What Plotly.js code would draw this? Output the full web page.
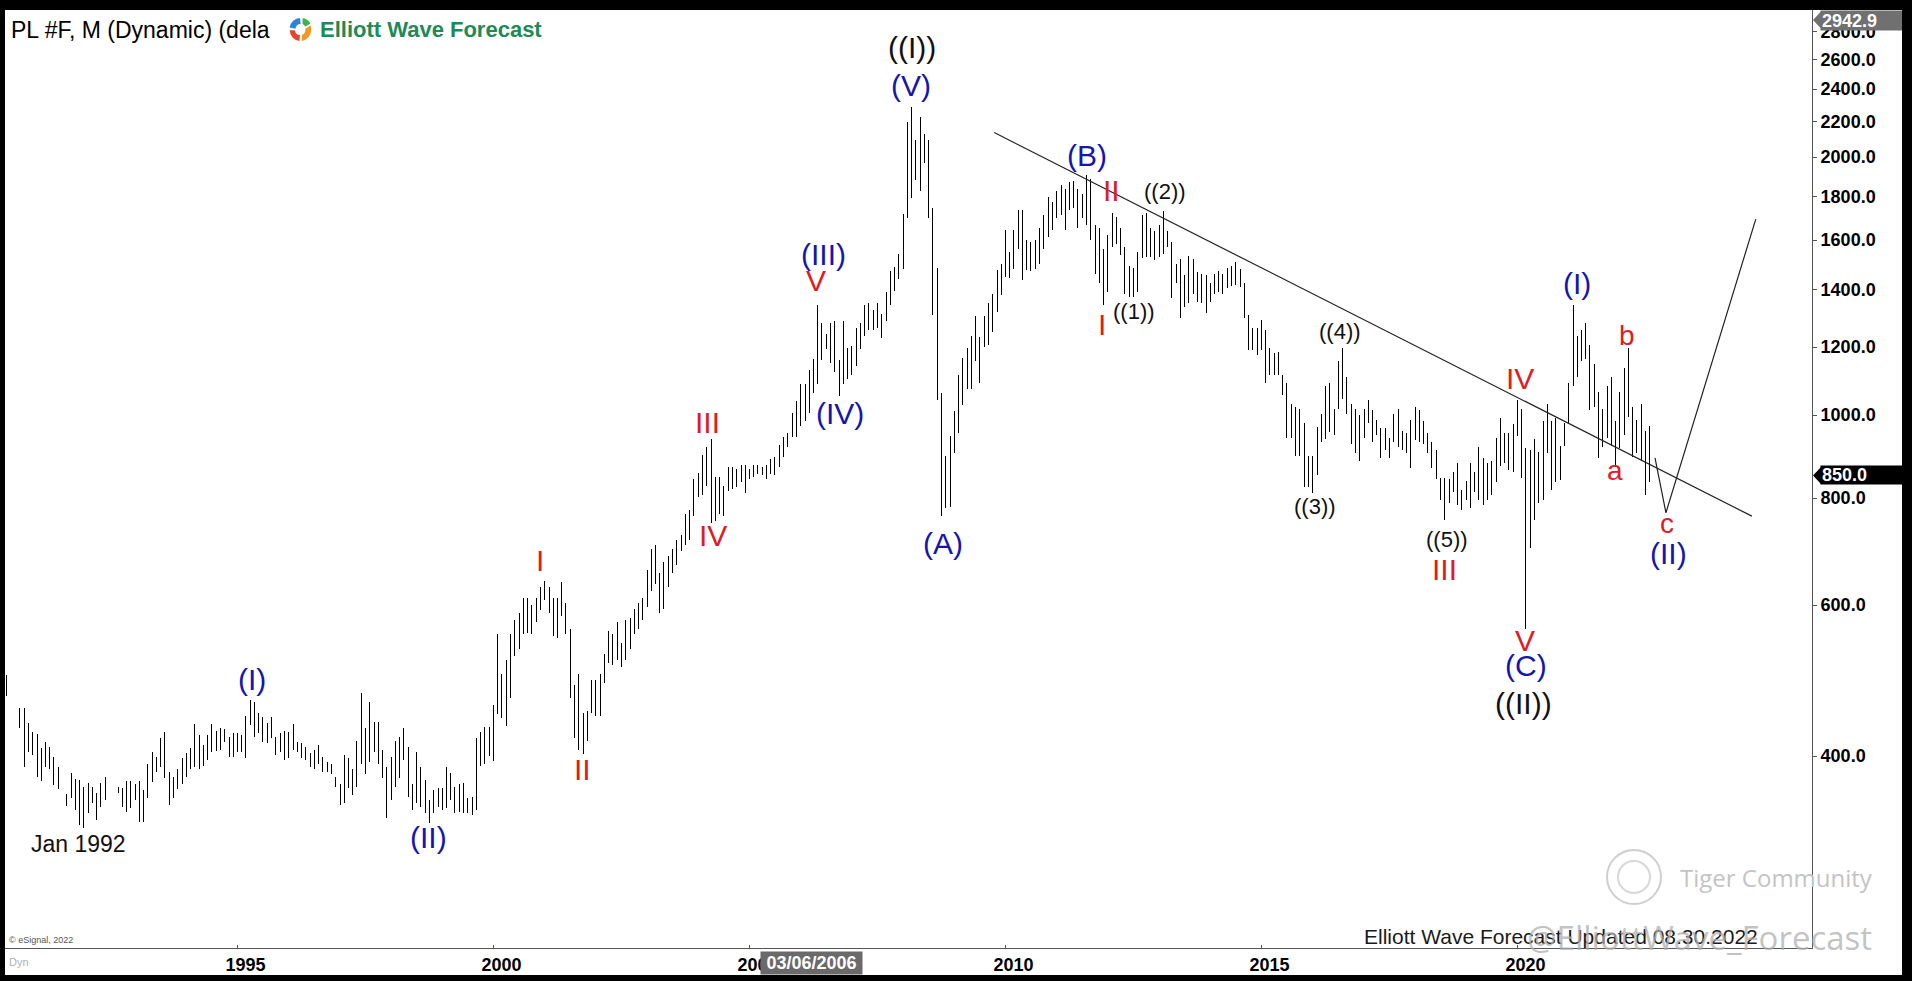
<!DOCTYPE html>
<html><head><meta charset="utf-8">
<script src="https://cdn.plot.ly/plotly-3.0.1.min.js"></script>
<style>
html,body{margin:0;padding:0;background:#000;width:1912px;height:981px;overflow:hidden;}
#chart{position:absolute;left:5px;top:10px;width:1897px;height:965px;background:#fff;}
#chart .scatterlayer .trace:first-of-type path.js-line{shape-rendering:crispEdges;}
</style></head><body><div id="chart"></div>
<script>
// ---------------- DATA (monthly high / low, PL #F, starting Jul 1990) ----------------
const startYear = 1990, startMonth = 7;
// Jul 1990 .. Dec 1999
const high1990s = [497,null,null,455,455,437,427,424,409,415,410,399,388,null,361,382,376,375,368,372,368,362,372,378,null,null,368,367,374,374,371,374,365,392,404,399,420,427,383,378,386,398,403,409,436,423,412,423,436,428,431,430,421,425,425,423,446,465,462,449,444,437,444,421,425,428,427,436,415,414,410,403,406,412,399,394,392,378,371,401,398,386,417,474,431,462,438,438,406,388,399,417,421,431,410,371,404,388,375,355,365,367,367,388,382,368,371,372,357,358,420,427,433,433];
const low1990s  = [470,null,null,431,388,404,401,378,374,388,386,370,366,null,350,357,346,332,330,343,353,337,349,355,null,null,362,349,344,348,355,335,335,357,373,383,388,377,351,357,366,371,378,386,388,386,389,396,404,405,406,415,399,399,404,404,398,435,421,425,415,414,420,401,404,396,398,406,404,398,396,388,386,391,383,383,381,368,351,353,367,360,368,391,381,394,404,392,377,339,355,368,377,396,358,346,353,349,343,334,343,349,346,348,355,343,344,343,343,341,346,389,392,400];
// Jan 2000 .. Dec 2009
const high2000s = [459,555,499,518,555,576,587,611,611,600,611,630,641,630,611,611,639,604,562,484,499,449,451,490,490,499,526,559,555,573,542,576,579,593,604,611,660,697,706,654,673,685,697,714,724,766,775,842,856,897,917,937,846,846,827,870,870,866,875,875,866,875,875,870,875,889,893,922,942,953,1006,1039,1087,1087,1129,1162,1344,1281,1243,1281,1288,1158,1288,1198,1205,1265,1281,1344,1350,1325,1350,1311,1390,1471,1489,1541,1718,2200,2290,2091,2226,2125,2096,1746,1483,1062,896,945,1012,1114,1167,1198,1237,1304,1234,1304,1350,1386,1477,1500];
const low2000s  = [395,448,443,434,467,523,533,555,557,555,573,592,608,588,552,549,583,555,467,420,407,402,416,449,445,445,487,513,511,518,508,518,533,555,562,576,597,623,635,587,593,630,654,669,694,706,714,762,802,806,827,749,753,766,762,815,820,824,835,810,842,846,853,851,842,853,851,870,893,917,942,942,970,984,1006,1062,1087,1158,1194,1150,1124,1051,1087,1101,1113,1141,1194,1237,1258,1258,1265,1231,1288,1344,1397,1440,1482,1700,1790,1880,1825,1968,1700,1309,1040,763,778,780,902,952,1026,1071,1071,1155,1090,1201,1208,1250,1318,1379];
// Jan 2010 .. Aug 2022
const high2010s = [1643,1549,1643,1736,1736,1600,1591,1600,1655,1712,1798,1773,1826,1855,1835,1869,1877,1835,1811,1906,1883,1667,1651,1563,1624,1721,1702,1655,1571,1494,1485,1549,1712,1721,1651,1639,1667,1732,1639,1591,1500,1520,1455,1532,1520,1467,1459,1455,1427,1459,1474,1459,1485,1494,1508,1482,1426,1309,1265,1265,1290,1258,1198,1180,1185,1114,1091,1031,1022,1017,978,896,896,968,1002,1080,1091,1017,1155,1198,1109,1029,1017,1000,1017,1041,1014,986,965,965,940,1002,1017,958,953,986,1022,1014,983,953,929,910,845,845,841,857,879,818,837,879,857,917,890,879,884,940,993,953,953,975,1041,1017,914,910,938,905,983,1029,983,991,920,978,1091,1344,1237,1257,1281,1208,1146,1065,1017,1080,1109,983,1065,1136,1198,1022,986,1031,958,970];
const low2010s  = [1449,1444,1482,1563,1437,1478,1471,1482,1500,1563,1612,1643,1697,1712,1643,1736,1746,1651,1697,1667,1600,1462,1426,1344,1390,1571,1584,1536,1386,1373,1373,1390,1524,1528,1528,1516,1528,1540,1571,1369,1426,1297,1338,1350,1386,1354,1350,1314,1354,1386,1390,1386,1405,1413,1420,1409,1297,1191,1191,1176,1191,1091,1113,1113,1113,1056,940,940,896,896,824,824,811,852,929,938,956,948,1017,1044,1002,926,902,884,940,978,929,948,890,910,890,929,917,910,902,868,934,929,926,902,868,841,796,755,790,814,785,774,796,778,814,796,785,796,806,836,872,879,863,859,945,845,562,699,755,790,796,902,818,836,839,920,978,1080,1109,1155,1162,1014,1022,890,917,940,920,870,914,948,996,893,902,884,806,836];

// Analyst drawings (dates / prices)
const trendDates  = ['2009-10-12', '2024-07-30'];
const trendPrices = [2136, 762];
const pathDates   = ['2022-09-08', '2022-11-25', '2024-08-27'];
const pathPrices  = [891, 769, 1693];

// Axis ticks
const yearTickDates = ['1995-01-01','2000-01-01','2005-01-01','2010-01-01','2015-01-01','2020-01-01'];
const yearTickText  = ['1995','2000','2005','2010','2015','2020'];
const priceTicks    = [400,600,800,1000,1200,1400,1600,1800,2000,2200,2400,2600,2800];
const lastPrice = 850.0, topPrice = 2942.9;
const cursorDate = '03/06/2006';

// ---------------- BUILD ----------------
const highs = high1990s.concat(high2000s, high2010s);
const lows  = low1990s.concat(low2000s, low2010s);
const bx = [], by = [];
for (let i = 0; i < highs.length; i++) {
  if (highs[i] == null) continue;
  const m = startMonth - 1 + i;
  const d = (startYear + Math.floor(m / 12)) + '-' + String(m % 12 + 1).padStart(2, '0') + '-01';
  bx.push(d, d, null); by.push(lows[i], highs[i], null);
}

const BLUE = '#1515b0', RED = '#e01b24', BLACK = '#111111';
const LF = 'Liberation Sans, Arial, sans-serif';

const waveLabels = [
 ['(I)', '1995-04-13', 489, BLUE, 30],
 ['(II)', '1998-09-27', 320, BLUE, 30],
 ['Jan 1992', '1991-11-25', 314, BLACK, 23],
 ['I', '2000-11-27', 672, RED, 30],
 ['II', '2001-09-30', 384, RED, 30],
 ['III', '2004-03-03', 976, RED, 30],
 ['IV', '2004-04-15', 719, RED, 30],
 ['V', '2006-04-20', 1426, RED, 30],
 ['(III)', '2006-06-09', 1533, BLUE, 30],
 ['(IV)', '2006-10-08', 1000, BLUE, 30],
 ['(V)', '2008-02-25', 2408, BLUE, 30],
 ['((I))', '2008-03-04', 2667, BLACK, 30],
 ['(A)', '2008-10-13', 705, BLUE, 30],
 ['(B)', '2011-08-04', 2000, BLUE, 30],
 ['I', '2011-11-19', 1270, RED, 30],
 ['II', '2012-01-30', 1816, RED, 30],
 ['((1))', '2012-07-04', 1312, BLACK, 22],
 ['((2))', '2013-02-12', 1811, BLACK, 22],
 ['((3))', '2016-01-17', 777, BLACK, 22],
 ['((4))', '2016-07-13', 1246, BLACK, 22],
 ['((5))', '2018-08-15', 711, BLACK, 22],
 ['III', '2018-08-01', 656, RED, 30],
 ['IV', '2020-01-18', 1096, RED, 30],
 ['V', '2020-02-23', 542, RED, 30],
 ['(C)', '2020-03-01', 507, BLUE, 30],
 ['((II))', '2020-02-16', 458, BLACK, 30],
 ['(I)', '2021-03-01', 1418, BLUE, 30],
 ['a', '2021-11-26', 856, RED, 28],
 ['b', '2022-02-20', 1233, RED, 28],
 ['c', '2022-12-02', 744, RED, 28],
 ['(II)', '2022-12-16', 685, BLUE, 30]
];

const yr = [Math.log10(238.8), Math.log10(2969)];
const W = 1897, H = 965, ML = 0, MR = 90, MT = 0, MB = 27;
const PW = W - ML - MR, PH = H - MT - MB;
const px2paperX = p => (p - 5) / PW;        // page pixel -> paper x
const px2paperY = p => (948 - p) / PH;      // page pixel -> paper y
const yPaperOf = v => (Math.log10(v) - yr[0]) / (yr[1] - yr[0]);

const annotations = waveLabels.map(l => ({
  text: l[0], x: l[1], y: Math.log10(l[2]), xref: 'x', yref: 'y', yshift: 2,
  showarrow: false, xanchor: 'center', yanchor: 'middle',
  font: {family: LF, size: l[4], color: l[3]}
}));

annotations.push(
  {text: 'PL #F, M (Dynamic) (dela', xref: 'paper', yref: 'paper', x: px2paperX(9), y: px2paperY(30),
   xanchor: 'left', yanchor: 'middle', showarrow: false, font: {family: LF, size: 23, color: '#000'}},
  {text: 'Elliott Wave Forecast', xref: 'paper', yref: 'paper', x: px2paperX(318), y: px2paperY(30),
   xanchor: 'left', yanchor: 'middle', showarrow: false, font: {family: LF, size: 22, color: '#1d8b57', weight: 'bold'}},
  {text: '© eSignal, 2022', xref: 'paper', yref: 'paper', x: px2paperX(7), y: px2paperY(940),
   xanchor: 'left', yanchor: 'middle', showarrow: false, font: {family: LF, size: 9, color: '#555'}},
  {text: 'Dyn', xref: 'paper', yref: 'paper', x: px2paperX(7), y: px2paperY(962),
   xanchor: 'left', yanchor: 'middle', showarrow: false, font: {family: LF, size: 11, color: '#b0b0b0'}},
  {text: 'Tiger Community', xref: 'paper', yref: 'paper', x: px2paperX(1678), y: px2paperY(877),
   xanchor: 'left', yanchor: 'middle', showarrow: false, font: {family: 'Open Sans, sans-serif', size: 24, color: '#c4c4c4'}},
  {text: 'Elliott Wave Forecast Updated 08.30.2022', xref: 'paper', yref: 'paper', x: px2paperX(1362), y: px2paperY(936),
   xanchor: 'left', yanchor: 'middle', showarrow: false, font: {family: LF, size: 21, color: '#1a1a1a'}},
  {text: '@ElliottWave_Forecast', xref: 'paper', yref: 'paper', x: px2paperX(1874), y: px2paperY(937),
   xanchor: 'right', yanchor: 'middle', showarrow: false, font: {family: 'Open Sans, sans-serif', size: 33, color: 'rgba(175,175,175,0.75)'}},
  {text: cursorDate, xref: 'paper', yref: 'paper', x: px2paperX(760), y: px2paperY(963),
   xanchor: 'left', yanchor: 'middle', showarrow: false, bgcolor: '#6a6a6a', borderpad: 2, width: 97, height: 18,
   font: {family: LF, size: 18, color: '#fff', weight: 'bold'}},
  {text: lastPrice.toFixed(1), xref: 'paper', yref: 'paper', x: px2paperX(1820), y: yPaperOf(lastPrice),
   xanchor: 'left', yanchor: 'middle', showarrow: false, bgcolor: '#000', borderpad: 1, width: 80, height: 16, align: 'left',
   font: {family: LF, size: 18, color: '#fff', weight: 'bold'}},
  {text: topPrice.toFixed(1), xref: 'paper', yref: 'paper', x: px2paperX(1820), y: px2paperY(20),
   xanchor: 'left', yanchor: 'middle', showarrow: false, bgcolor: '#707070', borderpad: 1, width: 80, height: 17, align: 'left',
   font: {family: LF, size: 18, color: '#fff', weight: 'bold'}}
);

const hp = 8.5 / PH;
const lp = yPaperOf(lastPrice), tp = px2paperY(20);
const shapes = [
  {type: 'path', xref: 'paper', yref: 'paper', line: {width: 0}, fillcolor: '#000',
   path: `M ${px2paperX(1821)},${lp + hp} L ${px2paperX(1813)},${lp} L ${px2paperX(1821)},${lp - hp} Z`},
  {type: 'path', xref: 'paper', yref: 'paper', line: {width: 0}, fillcolor: '#707070',
   path: `M ${px2paperX(1821)},${tp + hp} L ${px2paperX(1813)},${tp} L ${px2paperX(1821)},${tp - hp} Z`},
  {type: 'circle', xref: 'paper', yref: 'paper', xsizemode: 'pixel', ysizemode: 'pixel',
   xanchor: px2paperX(1634), yanchor: px2paperY(877), x0: -27, x1: 27, y0: -27, y1: 27,
   line: {color: '#cfcfcf', width: 2}},
  {type: 'circle', xref: 'paper', yref: 'paper', xsizemode: 'pixel', ysizemode: 'pixel',
   xanchor: px2paperX(1634), yanchor: px2paperY(877), x0: -16, x1: 16, y0: -16, y1: 16,
   line: {color: '#d8d8d8', width: 2}}
];

const logoSvg = '<svg xmlns="http://www.w3.org/2000/svg" viewBox="0 0 40 40">' +
  '<path d="M20 3 A17 17 0 0 0 4 17 L13 19 A8 8 0 0 1 21 12 Z" fill="#2a86d8"/>' +
  '<path d="M4 21 A17 17 0 0 0 19 37 L20 28 A8 8 0 0 1 12 21 Z" fill="#e8452c"/>' +
  '<path d="M23 37 A17 17 0 0 0 36 14 L28 19 A8 8 0 0 1 23 28 Z" fill="#f29a1f"/>' +
  '<path d="M24 3 A17 17 0 0 1 36 11 L28 16 A8 8 0 0 0 24 12 Z" fill="#3cb54a"/></svg>';

const layout = {
  width: W, height: H, margin: {l: ML, r: MR, t: MT, b: MB},
  paper_bgcolor: '#fff', plot_bgcolor: '#fff', showlegend: false,
  xaxis: {type: 'date', range: ['1990-06-17', '2025-10-02'], tickvals: yearTickDates, ticktext: yearTickText,
    showgrid: false, zeroline: false, showline: true, linecolor: '#555', linewidth: 1,
    ticks: 'inside', ticklen: 3, tickcolor: '#555', ticklabelshift: 8, ticklabelstandoff: 0,
    tickfont: {family: LF, size: 18, color: '#000', weight: 'bold'}, fixedrange: true},
  yaxis: {type: 'log', side: 'right', range: yr, tickvals: priceTicks, ticktext: priceTicks.map(v => v.toFixed(1)),
    showgrid: false, zeroline: false, showline: true, linecolor: '#555', linewidth: 1,
    ticks: 'outside', ticklen: 4, tickcolor: '#555', ticklabelstandoff: 0,
    tickfont: {family: LF, size: 18, color: '#000', weight: 'bold'}, fixedrange: true},
  annotations: annotations, shapes: shapes,
  images: [{source: 'data:image/svg+xml;charset=utf-8,' + encodeURIComponent(logoSvg),
    xref: 'paper', yref: 'paper', x: px2paperX(287), y: px2paperY(16), sizex: 26 / PW, sizey: 27 / PH,
    xanchor: 'left', yanchor: 'top', sizing: 'stretch', layer: 'above'}]
};

const traces = [
  {type: 'scatter', mode: 'lines', x: bx, y: by, line: {color: '#000', width: 1}, hoverinfo: 'skip', connectgaps: false},
  {type: 'scatter', mode: 'lines', x: trendDates, y: trendPrices, line: {color: '#222', width: 1.2}, hoverinfo: 'skip'},
  {type: 'scatter', mode: 'lines', x: pathDates, y: pathPrices, line: {color: '#222', width: 1.2}, hoverinfo: 'skip'}
];

Plotly.newPlot('chart', traces, layout, {staticPlot: true, displayModeBar: false});
</script></body></html>
